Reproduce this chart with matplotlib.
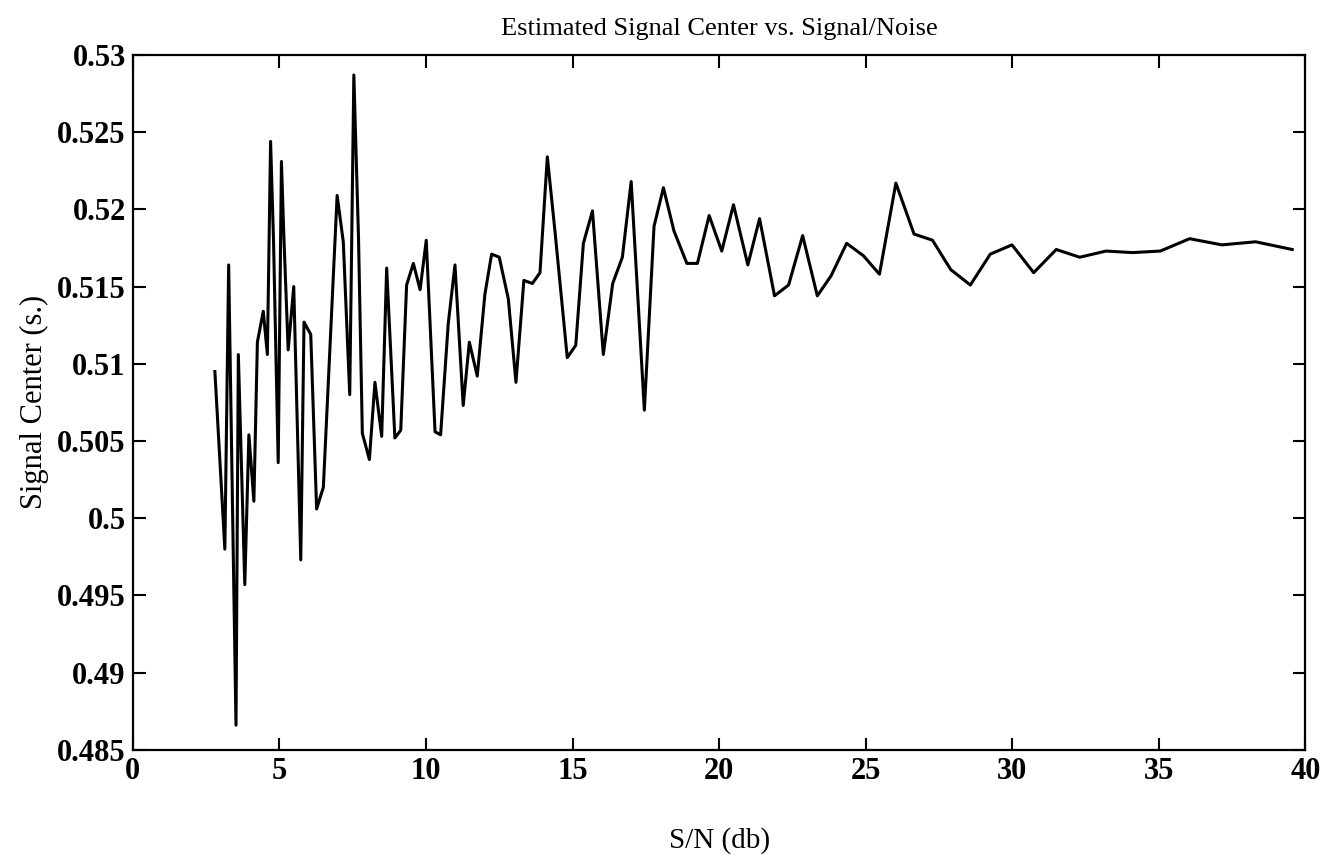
import numpy as np
import matplotlib
matplotlib.use('Agg')
import matplotlib.pyplot as plt
from matplotlib.ticker import FormatStrFormatter

# S/N (db) vs estimated signal center (s.)
snr_db = [2.80, 3.14, 3.27, 3.52, 3.60, 3.82, 3.96, 4.13, 4.25, 4.45,
          4.59, 4.70, 4.80, 4.96, 5.07, 5.15, 5.30, 5.49, 5.73, 5.84,
          6.07, 6.27, 6.50, 6.97, 7.18, 7.40, 7.54, 7.70, 7.83, 8.07,
          8.26, 8.49, 8.66, 8.94, 9.14, 9.34, 9.57, 9.80, 10.01, 10.31,
          10.50, 10.76, 10.99, 11.27, 11.48, 11.75, 12.01, 12.24, 12.50, 12.81,
          13.07, 13.34, 13.63, 13.89, 14.14, 14.40, 14.82, 15.11, 15.37, 15.68,
          16.05, 16.37, 16.70, 17.00, 17.45, 17.78, 18.10, 18.46, 18.90, 19.26,
          19.66, 20.09, 20.49, 20.98, 21.38, 21.89, 22.37, 22.85, 23.35, 23.82,
          24.35, 24.92, 25.47, 26.03, 26.65, 27.28, 27.90, 28.57, 29.25, 29.99,
          30.73, 31.50, 32.30, 33.20, 34.10, 35.05, 36.05, 37.15, 38.30, 39.55]
center = [0.5095, 0.4980, 0.5164, 0.4866, 0.5106, 0.4957, 0.5054, 0.5011, 0.5114, 0.5134,
          0.5106, 0.5244, 0.5180, 0.5036, 0.5231, 0.5184, 0.5109, 0.5150, 0.4973, 0.5127,
          0.5119, 0.5006, 0.5020, 0.5209, 0.5179, 0.5080, 0.5287, 0.5181, 0.5055, 0.5038,
          0.5088, 0.5053, 0.5162, 0.5052, 0.5057, 0.5151, 0.5165, 0.5148, 0.5180, 0.5056,
          0.5054, 0.5126, 0.5164, 0.5073, 0.5114, 0.5092, 0.5145, 0.5171, 0.5169, 0.5142,
          0.5088, 0.5154, 0.5152, 0.5159, 0.5234, 0.5186, 0.5104, 0.5112, 0.5178, 0.5199,
          0.5106, 0.5152, 0.5169, 0.5218, 0.5070, 0.5189, 0.5214, 0.5186, 0.5165, 0.5165,
          0.5196, 0.5173, 0.5203, 0.5164, 0.5194, 0.5144, 0.5151, 0.5183, 0.5144, 0.5157,
          0.5178, 0.5170, 0.5158, 0.5217, 0.5184, 0.5180, 0.5161, 0.5151, 0.5171, 0.5177,
          0.5159, 0.5174, 0.5169, 0.5173, 0.5172, 0.5173, 0.5181, 0.5177, 0.5179, 0.5174]

xticks = [0, 5, 10, 15, 20, 25, 30, 35, 40]
yticks = [0.485, 0.49, 0.495, 0.5, 0.505, 0.51, 0.515, 0.52, 0.525, 0.53]

plt.rcParams['font.family'] = ['Liberation Serif', 'DejaVu Serif']

fig = plt.figure(figsize=(13.28, 8.58), dpi=100)
ax = fig.add_axes([0.100, 0.126, 0.883, 0.810])

ax.plot(snr_db, center, color='black', linewidth=2.2)

ax.set_xlim(0, 40)
ax.set_ylim(0.485, 0.53)
ax.set_xticks(xticks)
ax.set_yticks(yticks)
ax.yaxis.set_major_formatter(FormatStrFormatter('%g'))
ax.tick_params(direction='in', length=9, width=1.5, top=True, right=True,
               labelsize=22, pad=5)
for lab in ax.get_xticklabels() + ax.get_yticklabels():
    lab.set_fontweight('bold')
for s in ax.spines.values():
    s.set_linewidth(1.6)

ax.set_title('Estimated Signal Center vs. Signal/Noise', fontsize=19, pad=14)
ax.set_xlabel('S/N (db)', fontsize=21, labelpad=30)
ax.set_ylabel('Signal Center (s.)', fontsize=22, labelpad=6)

fig.savefig('out.png', dpi=100, facecolor='white')
